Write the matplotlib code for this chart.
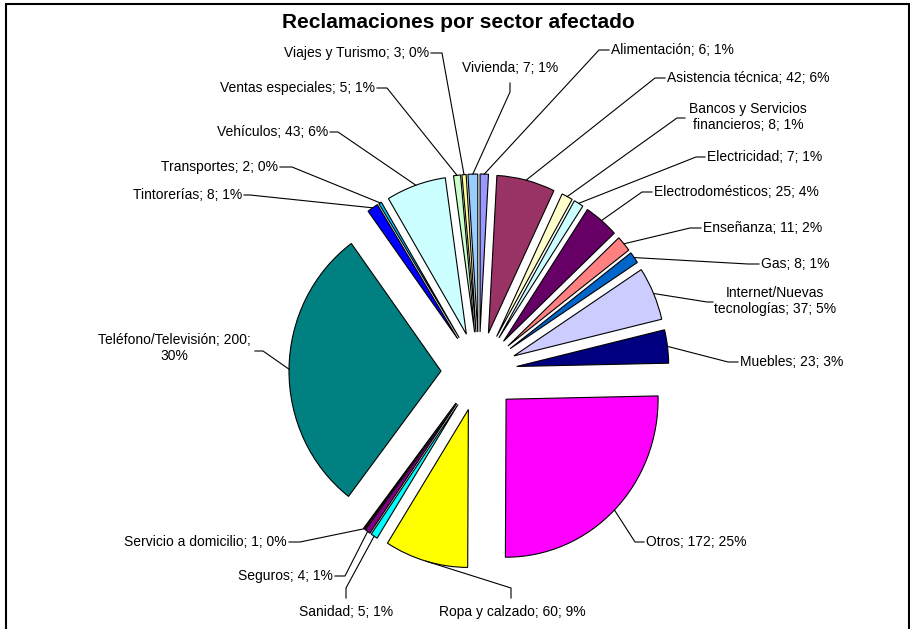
import numpy as np
import matplotlib
matplotlib.use("Agg")
import matplotlib.pyplot as plt
from matplotlib.patches import Rectangle
from matplotlib.lines import Line2D

plt.rcParams["font.family"] = ["Liberation Sans", "DejaVu Sans"]

W, H = 910, 629

sectors = ["Alimentación", "Asistencia técnica", "Bancos y Servicios financieros",
           "Electricidad", "Electrodomésticos", "Enseñanza", "Gas",
           "Internet/Nuevas tecnologías", "Muebles", "Otros", "Ropa y calzado",
           "Sanidad", "Seguros", "Servicio a domicilio", "Teléfono/Televisión",
           "Tintorerías", "Transportes", "Vehículos", "Ventas especiales",
           "Viajes y Turismo", "Vivienda"]
reclamaciones = [6, 42, 8, 7, 25, 11, 8, 37, 23, 172, 60, 5, 4, 1, 200, 8, 2, 43, 5, 3, 7]
colors = ["#9999FF", "#993366", "#FFFFCC", "#CCFFFF", "#660066", "#FF8080",
          "#0066CC", "#CCCCFF", "#000080", "#FF00FF", "#FFFF00", "#00FFFF",
          "#800080", "#800000", "#008080", "#0000FF", "#00CCFF", "#CCFFFF",
          "#CCFFCC", "#FFFF99", "#99CCFF"]

# line breaks used in the original labels
wraps = {"Bancos y Servicios financieros": ("Servicios ", "Servicios\n"),
         "Internet/Nuevas tecnologías": ("Nuevas ", "Nuevas\n"),
         "Teléfono/Televisión": ("200; ", "200;\n")}

# label layout in image pixels (x, y down): text pos, ha, elbow, stub end
layout = [
    ((611, 50), "left", (599, 50), (609, 50)),
    ((667, 78), "left", (655, 78), (665, 78)),
    ((748, 117), "center", (677, 118), (685, 118)),
    ((707, 157), "left", (696, 157), (705, 157)),
    ((654, 192), "left", (642, 192), (652, 192)),
    ((703, 228), "left", (690, 228), (701, 228)),
    ((761, 264), "left", (748, 264), (759, 264)),
    ((775, 301), "center", (707, 302), (713, 302)),
    ((740, 362), "left", (728, 362), (738, 362)),
    ((646, 542), "left", (635, 542), (644, 542)),
    ((512, 612), "center", (511, 588), (511, 598)),
    ((346, 612), "center", (346, 588), (346, 598)),
    ((333, 576), "right", (345, 576), (335, 576)),
    ((287, 542), "right", (300, 542), (289, 542)),
    ((174, 348), "center", (263, 351), (255, 351)),
    ((242, 195), "right", (250, 195), (244, 195)),
    ((278, 167), "right", (292, 167), (280, 167)),
    ((328, 132), "right", (338, 132), (330, 132)),
    ((375, 88), "right", (387, 88), (377, 88)),
    ((429, 53), "right", (442, 53), (431, 53)),
    ((510, 68), "center", (510, 92), (510, 83)),
]

SY = 158 / 152  # slight vertical stretch of the original pie


def px(x, y):
    return x, (H - y) / SY


fig = plt.figure(figsize=(W / 100, H / 100), dpi=100)
ax = fig.add_axes([0, 0, 1, 1])

total = sum(reclamaciones)
wedges, _ = ax.pie(reclamaciones, colors=colors, startangle=90, counterclock=False,
                   center=px(479, 371.5), radius=152,
                   explode=[38] * len(reclamaciones),
                   wedgeprops=dict(edgecolor="black", linewidth=0.8))
ax.set_aspect("auto")
ax.set_xlim(0, W)
ax.set_ylim(0, H / SY)
ax.axis("off")

for w, name, v, (tpos, ha, elbow, stub) in zip(wedges, sectors, reclamaciones, layout):
    label = f"{name}; {v}; {round(v / total * 100)}%"
    if name in wraps:
        label = label.replace(*wraps[name])
    th = np.deg2rad((w.theta1 + w.theta2) / 2)
    wx = w.center[0] + w.r * np.cos(th)
    wy = w.center[1] + w.r * np.sin(th)
    ex, ey = px(*elbow)
    sx, sy = px(*stub)
    ax.add_line(Line2D([wx, ex, sx], [wy, ey, sy], color="black", lw=0.8))
    ax.text(*px(*tpos), label, ha=ha, va="center", multialignment="center",
            fontsize=10, color="black", linespacing=1.25)

ax.text(*px(458, 23), "Reclamaciones por sector afectado", ha="center", va="center",
        fontsize=15, fontweight="bold")

fig.patches.append(Rectangle((6, -10), 903, H - 4 + 10, transform=None,
                             fill=False, edgecolor="black", lw=1.5))

fig.savefig("out.png", dpi=100)
